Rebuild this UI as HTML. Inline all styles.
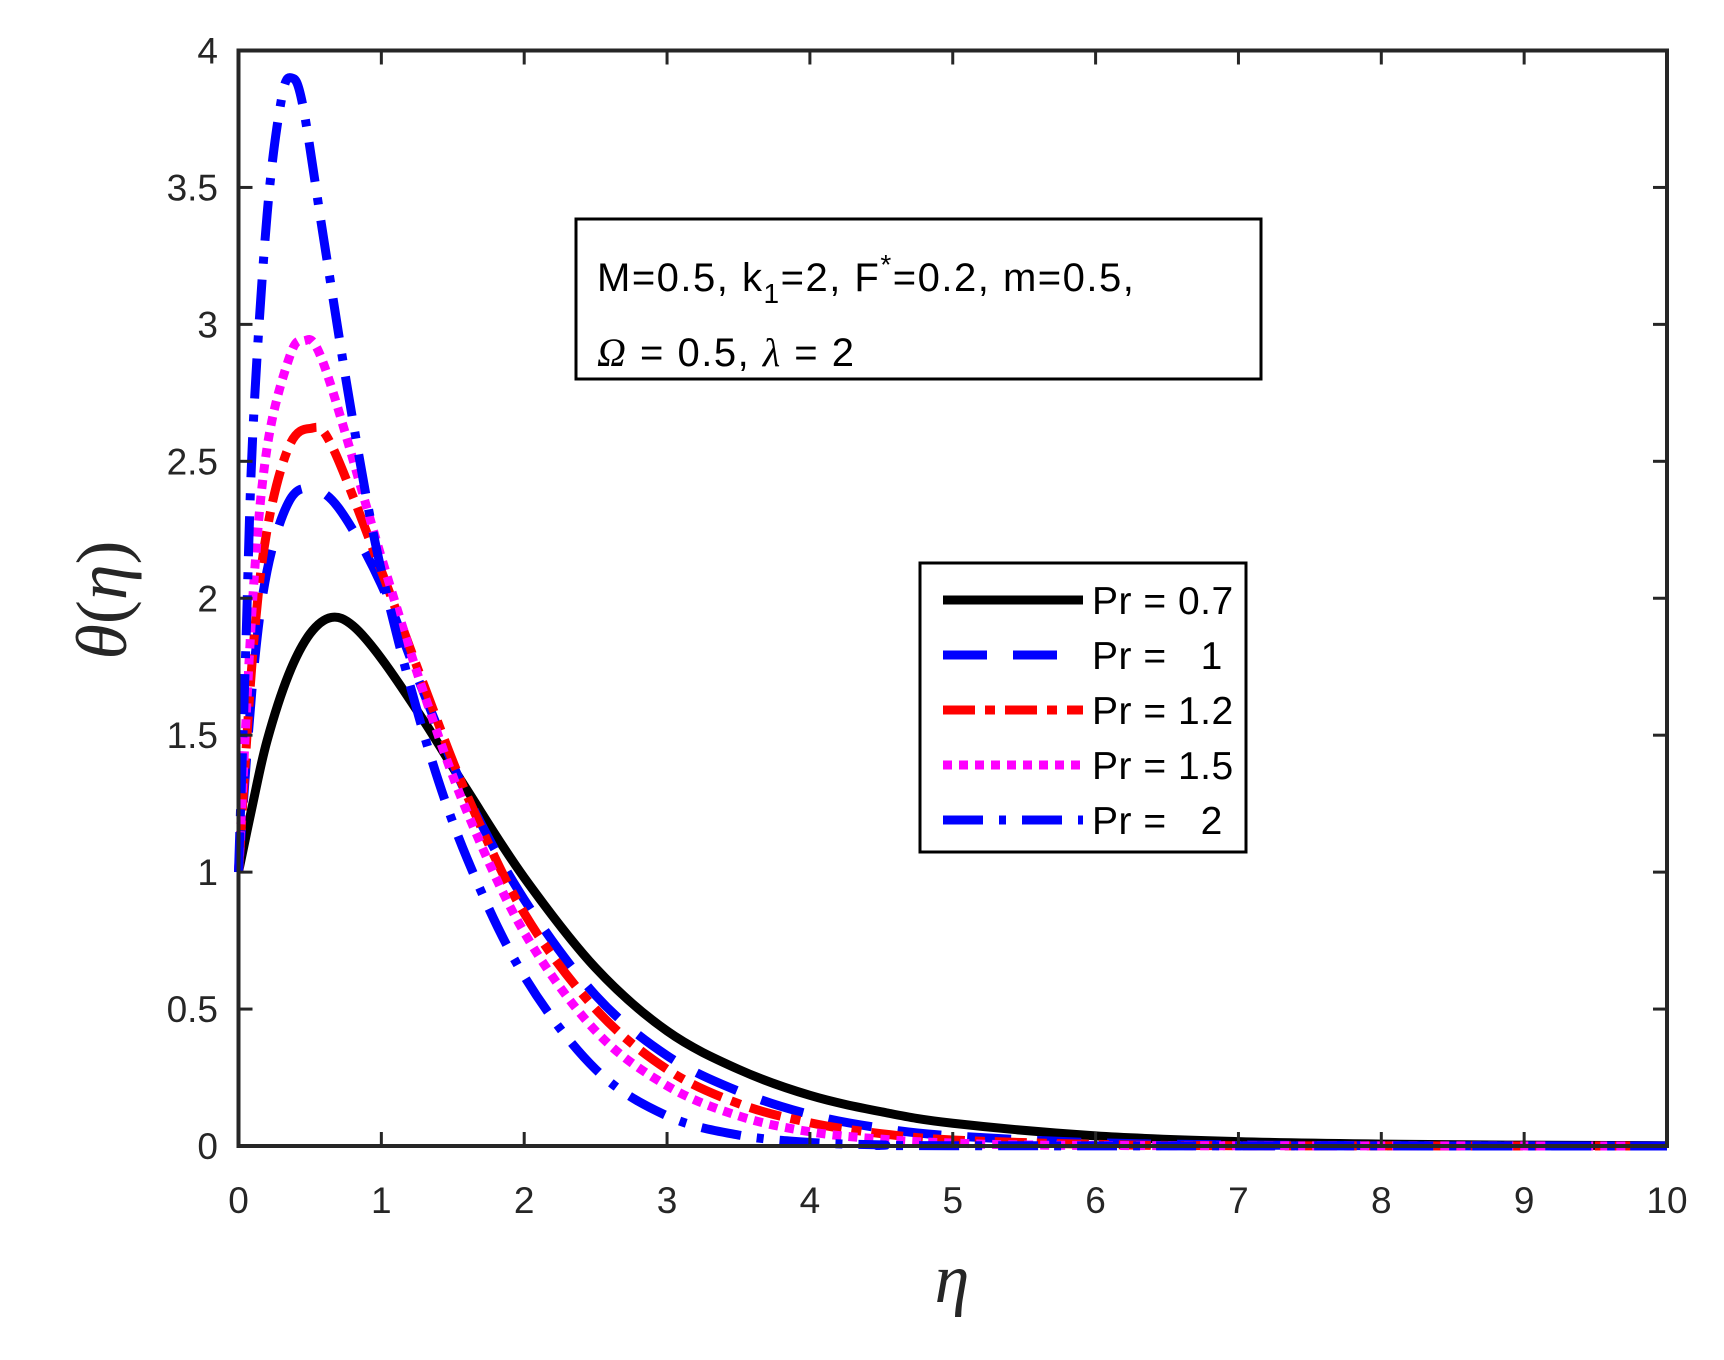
<!DOCTYPE html>
<html><head><meta charset="utf-8"><style>body{margin:0;background:#fff}svg{display:block}text{white-space:pre}</style></head><body>
<svg id="s" width="1724" height="1360" xmlns="http://www.w3.org/2000/svg" font-family="Liberation Sans, sans-serif" fill="#262626">
<g id="curves" fill="none" stroke-width="9"></g>
<rect x="238.5" y="50.5" width="1428.5" height="1095.5" fill="none" stroke="#262626" stroke-width="4"/>
<g id="ticks" stroke="#262626" stroke-width="3"></g>
<g id="labels" font-size="37"></g>
<text x="952" y="1302" font-family="Liberation Serif, serif" font-style="italic" font-size="70" text-anchor="middle">η</text>
<text transform="translate(126,600) rotate(-90)" font-family="Liberation Serif, serif" font-size="72" text-anchor="middle"><tspan font-style="italic">θ</tspan>(<tspan font-style="italic">η</tspan>)</text>
<rect x="576" y="219" width="685" height="160" fill="#fff" stroke="#000" stroke-width="3"/>
<text x="597" y="291" font-size="40" letter-spacing="1.5" fill="#000">M=0.5, k<tspan font-size="28" dy="12">1</tspan><tspan dy="-12">=2, F</tspan><tspan font-size="28" dy="-17">*</tspan><tspan dy="17">=0.2, m=0.5,</tspan></text>
<text x="597" y="366" font-size="40" letter-spacing="1.5" fill="#000"><tspan font-family="Liberation Serif, serif" font-style="italic">Ω</tspan> = 0.5, <tspan font-family="Liberation Serif, serif" font-style="italic">λ</tspan> = 2</text>
<rect x="920" y="563" width="326" height="289" fill="#fff" stroke="#000" stroke-width="3"/>
<g id="leg" font-size="39" letter-spacing="0.5"></g>
</svg>
<script>
const X0=238.5,X1=1667,Y0=50.5,Y1=1146;
const sx=x=>X0+(X1-X0)*x/10, sy=y=>Y1-(Y1-Y0)*y/4;
const NS="http://www.w3.org/2000/svg";
function el(p,t,a,txt){const e=document.createElementNS(NS,t);for(const k in a)e.setAttribute(k,a[k]);if(txt!==undefined)e.textContent=txt;document.getElementById(p).appendChild(e);return e;}
const series=[
 {c:"#000",d:"",pts:[[0,1],[0.1,1.25],[0.2,1.48],[0.35,1.72],[0.5,1.87],[0.65,1.93],[0.8,1.9],[1,1.78],[1.3,1.55],[1.6,1.3],[2,0.98],[2.5,0.65],[3,0.42],[3.5,0.28],[4,0.185],[4.5,0.125],[5,0.083],[6,0.037],[7,0.016],[8,0.007],[9,0.003],[10,0.001]],l:"Pr = 0.7"},
 {c:"#0000ff",d:"44 26",pts:[[0,1],[0.1,1.7],[0.2,2.1],[0.35,2.35],[0.5,2.4],[0.7,2.33],[1,2.05],[1.3,1.65],[1.6,1.28],[2,0.9],[2.5,0.55],[3,0.33],[3.5,0.2],[4,0.115],[4.5,0.065],[5,0.037],[6,0.012],[7,0.004],[8,0.001],[10,0]],l:"Pr =   1"},
 {c:"#ff0000",d:"32 10 10 10",pts:[[0,1],[0.1,1.8],[0.2,2.25],[0.35,2.55],[0.5,2.62],[0.65,2.56],[1,2.1],[1.3,1.68],[1.6,1.28],[2,0.85],[2.5,0.5],[3,0.28],[3.5,0.155],[4,0.085],[4.5,0.045],[5,0.022],[6,0.006],[7,0.001],[10,0]],l:"Pr = 1.2"},
 {c:"#ff00ff",d:"9 7",pts:[[0,1],[0.1,2.0],[0.2,2.55],[0.35,2.87],[0.45,2.94],[0.6,2.85],[1,2.15],[1.3,1.65],[1.6,1.22],[2,0.78],[2.5,0.42],[3,0.22],[3.5,0.11],[4,0.052],[4.5,0.025],[5,0.011],[6,0.002],[10,0]],l:"Pr = 1.5"},
 {c:"#0000ff",d:"40 16 7 16",pts:[[0,1],[0.05,1.8],[0.1,2.6],[0.2,3.4],[0.3,3.82],[0.37,3.9],[0.45,3.8],[0.6,3.3],[0.8,2.65],[1,2.1],[1.3,1.5],[1.6,1.05],[2,0.62],[2.5,0.28],[3,0.11],[3.5,0.04],[4,0.013],[4.5,0.004],[5,0.001],[10,0]],l:"Pr =   2"}];
series.forEach((s,i)=>{
 const P=s.pts.map(p=>[sx(p[0]),sy(p[1])]);
 let d="M"+P[0][0]+","+P[0][1];
 for(let k=0;k<P.length-1;k++){const p0=P[Math.max(k-1,0)],p1=P[k],p2=P[k+1],p3=P[Math.min(k+2,P.length-1)];
  d+=` C${p1[0]+(p2[0]-p0[0])/6},${p1[1]+(p2[1]-p0[1])/6} ${p2[0]-(p3[0]-p1[0])/6},${p2[1]-(p3[1]-p1[1])/6} ${p2[0]},${p2[1]}`;}
 const a={d:d,stroke:s.c};if(s.d)a["stroke-dasharray"]=s.d;
 el("curves","path",a);
 const y=600+55*i;
 const b={x1:943,x2:1083,y1:y,y2:y,stroke:s.c,"stroke-width":9};if(s.d)b["stroke-dasharray"]=s.d;
 el("leg","line",b);
 el("leg","text",{x:1092,y:y+14,fill:"#000"},s.l);
});
for(let i=0;i<=10;i++){const x=sx(i);
 el("ticks","line",{x1:x,x2:x,y1:Y1,y2:Y1-14});el("ticks","line",{x1:x,x2:x,y1:Y0,y2:Y0+14});
 el("labels","text",{x:x,y:1213,"text-anchor":"middle"},String(i));}
for(let i=0;i<=8;i++){const v=i/2,y=sy(v);
 el("ticks","line",{x1:X0,x2:X0+14,y1:y,y2:y});el("ticks","line",{x1:X1,x2:X1-14,y1:y,y2:y});
 el("labels","text",{x:218,y:y+13,"text-anchor":"end"},String(v));}
</script>
</body></html>
